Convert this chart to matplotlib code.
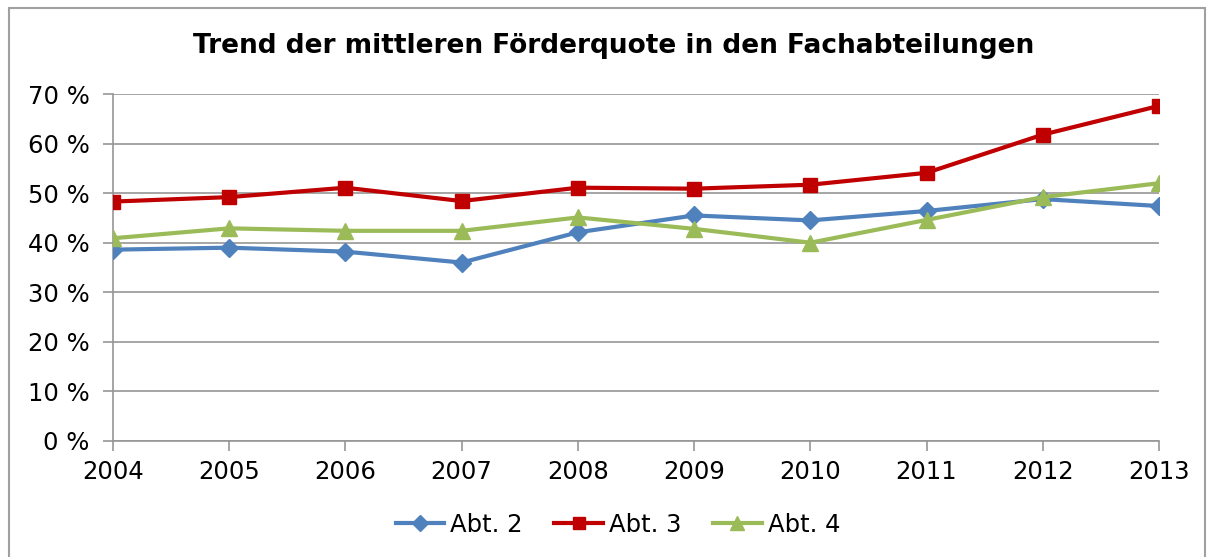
import matplotlib
matplotlib.use("Agg")
import matplotlib.pyplot as plt
from matplotlib.patches import Rectangle
from matplotlib.ticker import FuncFormatter, MultipleLocator

years = ["2004", "2005", "2006", "2007", "2008", "2009", "2010", "2011", "2012", "2013"]
abt2 = [38.6, 39.0, 38.2, 36.0, 42.1, 45.5, 44.5, 46.4, 48.8, 47.4]
abt3 = [48.3, 49.2, 51.1, 48.4, 51.1, 50.9, 51.7, 54.1, 61.8, 67.6]
abt4 = [40.9, 42.9, 42.4, 42.4, 45.1, 42.8, 40.0, 44.6, 49.2, 52.0]
series_names = ["Abt. 2", "Abt. 3", "Abt. 4"]
title = "Trend der mittleren Förderquote in den Fachabteilungen"

plt.rcParams['font.family'] = ['DejaVu Sans']
W, H = 1214, 557
fig = plt.figure(figsize=(W / 100, H / 100), dpi=100)
ax = fig.add_axes([113 / W, 1 - 441 / H, (1159 - 113) / W, (441 - 94) / H])

x = list(range(len(years)))
ax.plot(x, abt2, color="#4F81BD", lw=3, marker="D", ms=9, label=series_names[0], zorder=3)
ax.plot(x, abt3, color="#C00000", lw=3, marker="s", ms=10.5, label=series_names[1], zorder=4)
ax.plot(x, abt4, color="#9BBB59", lw=3, marker="^", ms=12, label=series_names[2], zorder=5)

ax.set_xlim(0, len(years) - 1)
ax.set_ylim(0, 70)
ax.yaxis.set_major_locator(MultipleLocator(10))
ax.yaxis.set_major_formatter(FuncFormatter(lambda v, p: f"{int(round(v))} %"))
ax.set_xticks(x)
ax.set_xticklabels(years)
ax.grid(axis="y", color="#969696", lw=1.2)
ax.set_axisbelow(True)
for s in ["top", "right"]:
    ax.spines[s].set_visible(False)
for s in ["left", "bottom"]:
    ax.spines[s].set_color("#969696")
    ax.spines[s].set_linewidth(1.2)
ax.tick_params(axis="both", colors="#969696", labelcolor="black", labelsize=17.5, length=7, width=1.2)
ax.tick_params(axis="x", pad=7)
ax.tick_params(axis="y", pad=10)

fig.text(614 / W, 1 - 46 / H, title, ha="center", va="center", fontsize=19, fontweight="bold")

leg = fig.legend(loc="center", bbox_to_anchor=(618 / W, 1 - 525 / H), ncol=3, frameon=False,
                 fontsize=17.5, handlelength=2.0, columnspacing=1.3, handletextpad=0.25,
                 markerscale=0.85)

fig.patches.append(Rectangle((9 / W, -0.05), (1205 - 9) / W, 1 - 8 / H + 0.05, transform=fig.transFigure,
                             fill=False, edgecolor="#A0A0A0", lw=1.5))

fig.savefig("out.png", dpi=100)
